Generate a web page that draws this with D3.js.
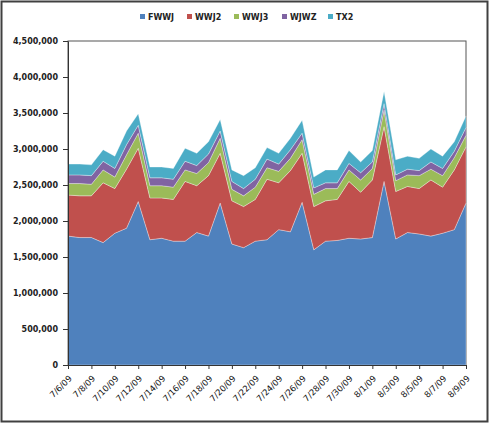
<!DOCTYPE html>
<html>
<head>
<meta charset="utf-8">
<script src="https://cdn.jsdelivr.net/npm/d3@7"></script>
<style>
  body { margin: 0; background: #fff; }
  text { font-family: "DejaVu Sans", Verdana, sans-serif; font-weight: bold; font-size: 8px; fill: #222; }
  .xlabel text { font-weight: normal; font-size: 8.5px; fill: #111; }
</style>
</head>
<body>
<div id="chart"></div>
<script>
var svgWidth = 490;
var svgHeight = 424;

var margin = { top: 41, right: 24, bottom: 59, left: 68 };
var width = 466 - margin.left;
var height = 365 - margin.top;

// daily values, 7/6/09 .. 8/9/09
var dates = ["7/6/09","7/7/09","7/8/09","7/9/09","7/10/09","7/11/09","7/12/09","7/13/09","7/14/09","7/15/09",
  "7/16/09","7/17/09","7/18/09","7/19/09","7/20/09","7/21/09","7/22/09","7/23/09","7/24/09","7/25/09",
  "7/26/09","7/27/09","7/28/09","7/29/09","7/30/09","7/31/09","8/1/09","8/2/09","8/3/09","8/4/09",
  "8/5/09","8/6/09","8/7/09","8/8/09","8/9/09"];

var fwwj = [1790000,1770000,1770000,1700000,1830000,1900000,2270000,1740000,1760000,1720000,
  1720000,1840000,1790000,2250000,1680000,1630000,1720000,1740000,1880000,1850000,
  2260000,1600000,1720000,1730000,1760000,1750000,1770000,2550000,1750000,1840000,
  1820000,1790000,1830000,1880000,2250000];
var wwj2 = [570000,580000,580000,830000,620000,820000,740000,580000,560000,580000,
  830000,650000,840000,690000,600000,570000,580000,840000,650000,850000,
  680000,600000,560000,570000,790000,650000,800000,760000,660000,640000,
  630000,780000,640000,830000,780000];
var wwj3 = [160000,170000,160000,180000,160000,200000,210000,170000,170000,170000,
  160000,170000,180000,210000,160000,150000,170000,160000,160000,170000,
  190000,170000,170000,150000,160000,170000,160000,230000,150000,160000,
  180000,150000,160000,170000,160000];
var wjwz = [120000,120000,120000,120000,120000,140000,110000,110000,110000,110000,
  120000,110000,120000,100000,110000,100000,110000,120000,100000,120000,
  90000,90000,80000,80000,90000,100000,90000,90000,80000,80000,
  70000,100000,100000,90000,110000];
var tx2 = [150000,150000,150000,160000,170000,190000,160000,150000,150000,150000,
  180000,170000,170000,160000,160000,180000,160000,160000,150000,160000,
  180000,150000,180000,180000,180000,150000,160000,170000,210000,180000,
  170000,180000,170000,130000,160000];

var seriesNames = ["FWWJ", "WWJ2", "WWJ3", "WJWZ", "TX2"];
var seriesValues = [fwwj, wwj2, wwj3, wjwz, tx2];
var colors = ["#4F81BD", "#C0504D", "#9BBB59", "#8064A2", "#4BACC6"];
var yTicks = [0,500000,1000000,1500000,2000000,2500000,3000000,3500000,4000000,4500000];

var parseDate = d3.timeParse("%-m/%-d/%y");
var formatDate = d3.timeFormat("%-m/%-d/%y");

var rows = dates.map(function(d, i) {
  var row = { date: parseDate(d) };
  seriesNames.forEach(function(name, s) { row[name] = seriesValues[s][i]; });
  return row;
});

var svg = d3.select("#chart")
  .append("svg")
  .attr("width", svgWidth)
  .attr("height", svgHeight);

// outer chart border
svg.append("rect")
  .attr("x", 1.5).attr("y", 1.5)
  .attr("width", svgWidth - 4).attr("height", svgHeight - 4)
  .attr("fill", "#fff")
  .attr("stroke", "#404040")
  .attr("stroke-width", 2);

var chartGroup = svg.append("g")
  .attr("transform", `translate(${margin.left}, ${margin.top})`);

var xScale = d3.scaleTime()
  .domain(d3.extent(rows, d => d.date))
  .range([0, width]);

var yScale = d3.scaleLinear()
  .domain([0, 4500000])
  .range([height, 0]);

// plot area frame
chartGroup.append("rect")
  .attr("width", width).attr("height", height)
  .attr("fill", "none")
  .attr("stroke", "#555")
  .attr("stroke-width", 1);

var stacked = d3.stack().keys(seriesNames)(rows);

var area = d3.area()
  .x(d => xScale(d.data.date))
  .y0(d => yScale(d[0]))
  .y1(d => yScale(d[1]));

chartGroup.selectAll(".layer")
  .data(stacked)
  .enter()
  .append("path")
  .attr("class", "layer")
  .attr("d", area)
  .attr("fill", (d, i) => colors[i])
  .attr("stroke", "#fff")
  .attr("stroke-opacity", 0.45)
  .attr("stroke-width", 0.7);

// axes
var leftAxis = d3.axisLeft(yScale)
  .tickValues(yTicks)
  .tickSize(5)
  .tickSizeOuter(0)
  .tickFormat(d3.format(","));

var tickDates = rows.filter((d, i) => i % 2 === 0).map(d => d.date);
var bottomAxis = d3.axisBottom(xScale)
  .tickValues(tickDates)
  .tickSize(4)
  .tickSizeOuter(0)
  .tickFormat(formatDate);

var yAxis = chartGroup.append("g").call(leftAxis);
yAxis.select(".domain").attr("stroke", "#333");
yAxis.selectAll(".tick line").attr("stroke", "#333");
yAxis.selectAll(".tick text").attr("x", -10).attr("dy", "0.35em");

var xAxis = chartGroup.append("g")
  .attr("class", "xlabel")
  .attr("transform", `translate(0, ${height})`)
  .call(bottomAxis);
xAxis.select(".domain").attr("stroke", "#333");
xAxis.selectAll(".tick line").attr("stroke", "#333");
xAxis.selectAll(".tick text")
  .attr("text-anchor", "end")
  .attr("x", 0)
  .attr("y", 0)
  .attr("dy", 0)
  .attr("transform", "translate(4, 14) rotate(-45)");

// legend
var legendX = [140, 187, 234, 282, 328];
var legend = svg.append("g");
seriesNames.forEach(function(name, i) {
  legend.append("rect")
    .attr("x", legendX[i]).attr("y", 14)
    .attr("width", 5).attr("height", 5)
    .attr("fill", colors[i]);
  legend.append("text")
    .attr("x", legendX[i] + 8).attr("y", 20)
    .text(name);
});
</script>
</body>
</html>
